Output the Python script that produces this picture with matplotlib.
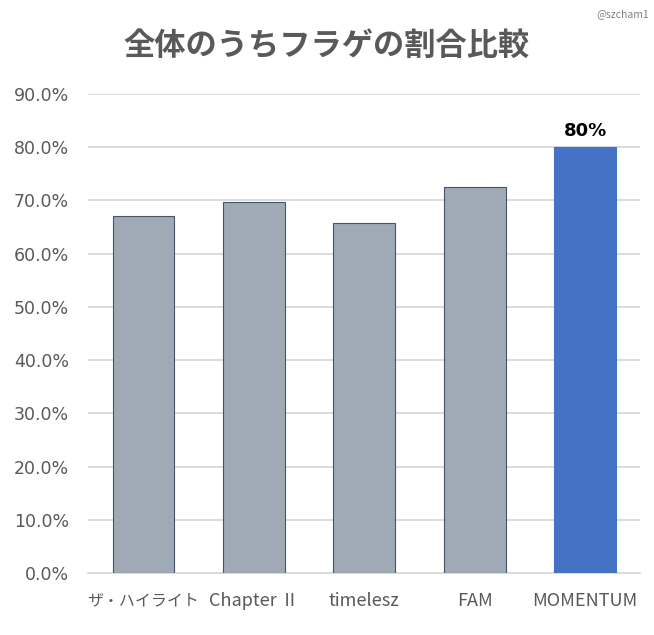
import matplotlib
matplotlib.use("Agg")
import numpy as np
from matplotlib import pyplot as plt
from matplotlib.ticker import FuncFormatter

plt.rcParams['font.family'] = ['Noto Sans CJK JP', 'DejaVu Sans']

groups = ['ザ・ハイライト', 'Chapter Ⅱ', 'timelesz', 'FAM', 'MOMENTUM']
ratios = [0.671, 0.697, 0.658, 0.726, 0.80]
highlight = 'MOMENTUM'
yticks = np.arange(0, 0.91, 0.1)

fig = plt.figure(figsize=(6.54, 6.35), dpi=100)
ax = fig.add_axes([0.135, 0.0976, 0.844, 0.7544])

colors = ['#4472C4' if g == highlight else '#A0AAB7' for g in groups]
edges = ['#4472C4' if g == highlight else '#44546A' for g in groups]
x = np.arange(len(groups))
ax.bar(x, ratios, width=0.56, color=colors, edgecolor=edges, linewidth=0.8, zorder=3)

ax.set_ylim(0, 0.9)
ax.set_xlim(-0.5, len(groups) - 0.5)
ax.set_yticks(yticks)
ax.yaxis.set_major_formatter(FuncFormatter(lambda v, p: f'{v*100:.1f}%'))
ax.grid(axis='y', color='#D9D9D9', linewidth=1.3, zorder=0)
for s in ['left', 'right', 'top']:
    ax.spines[s].set_visible(False)
ax.spines['bottom'].set_color('#D9D9D9')
ax.spines['bottom'].set_linewidth(1.3)
ax.tick_params(axis='both', length=0, colors='#595959')
ax.tick_params(axis='y', pad=14)
ax.tick_params(axis='x', pad=14)
for lab in ax.get_yticklabels():
    lab.set_fontfamily('DejaVu Sans')
    lab.set_fontsize(12.5)
ax.set_xticks(x)
ax.set_xticklabels(groups, fontsize=13)
# the CJK label is full-width in Noto, shrink it so it keeps the reference width
ax.get_xticklabels()[0].set_fontsize(11.5)

i = groups.index(highlight)
ax.text(i, ratios[i] + 0.014, f'{ratios[i]*100:.0f}%', ha='center', va='bottom',
        fontsize=13, fontweight='bold', color='black', family='DejaVu Sans')

fig.text(0.5, 0.928, '全体のうちフラゲの割合比較', ha='center', va='center',
         fontsize=22.5, fontweight='bold', color='#595959')
fig.text(0.992, 0.978, '@szcham1', ha='right', va='center', fontsize=7.5, color='#808080')

fig.savefig('out.png', dpi=100)
